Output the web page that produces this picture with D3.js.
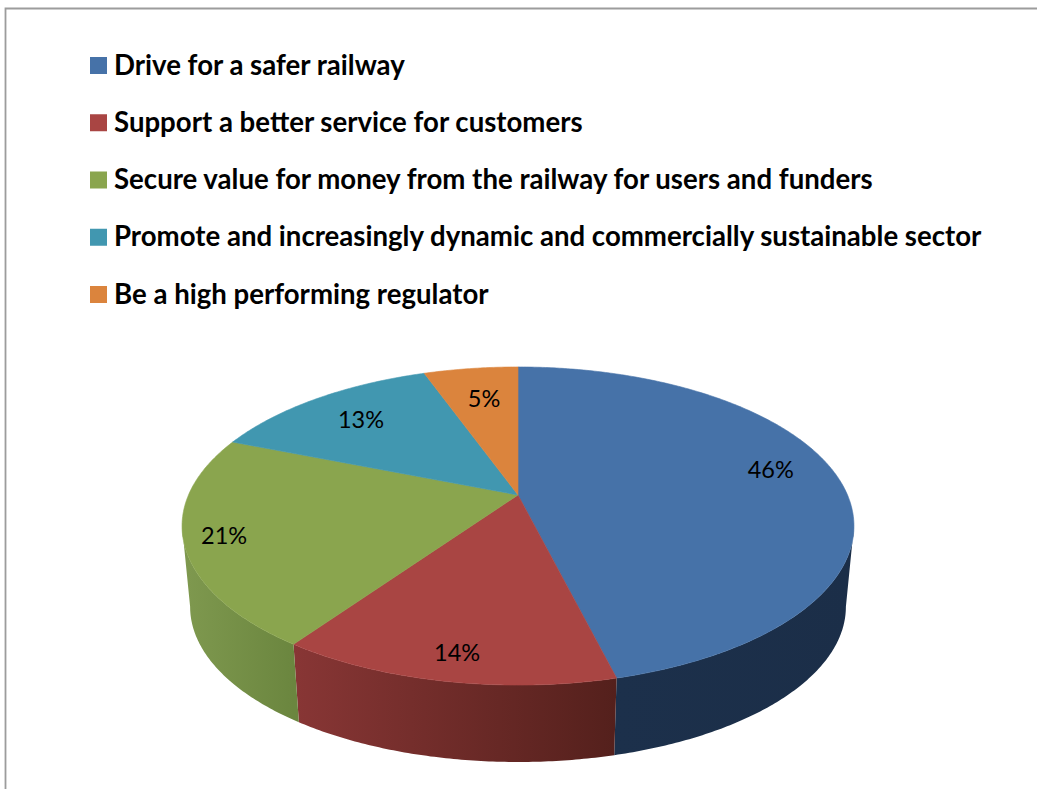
<!DOCTYPE html>
<html>
<head>
<meta charset="utf-8">
<script src="https://cdn.jsdelivr.net/npm/d3@7/dist/d3.min.js"></script>
<style>
  html, body { margin: 0; padding: 0; background: #fff; overflow: hidden; }
  svg { display: block; }
  text { font-family: Lato, "Open Sans", sans-serif; fill: #000; }
</style>
</head>
<body>
<svg id="chart" width="1037" height="789"></svg>
<script>
// Share of work by strategic objective
const categories = [
  "Drive for a safer railway",
  "Support a better service for customers",
  "Secure value for money from the railway for users and funders",
  "Promote and increasingly dynamic and commercially sustainable sector",
  "Be a high performing regulator"
];
const shares = [46.1, 13.6, 21.35, 13.48, 5.47];
const topColors = ["#4672a8", "#a94543", "#8aa54e", "#4197b0", "#db843d"];
const wallStops = [
  ["#1c304b", "#1b2e48"],
  ["#883635", "#54201c"],
  ["#7f994f", "#6b863f"],
  ["#2b6577", "#2b6577"],
  ["#93582a", "#93582a"]
];
// Radial distance and position along the slice of each percentage label
const labelRadius = [0.81, 0.87, 0.885, 0.76, 0.73];
const labelAlong = [0.47, 0.495, 0.5, 0.5, 0.53];

const svg = d3.select("#chart");

// Outer frame of the chart area
svg.append("path")
  .attr("d", "M5.5,789V8.5H1037")
  .attr("fill", "none")
  .attr("stroke", "#9c9c9c")
  .attr("stroke-width", 1.8);

// Legend
const legendY = d3.scalePoint().domain(categories).range([65.5, 294.5]);
const legend = svg.append("g").selectAll("g").data(categories).join("g")
  .attr("transform", d => `translate(90,${legendY(d)})`);
legend.append("rect")
  .attr("y", -8.5).attr("width", 17).attr("height", 17)
  .attr("fill", (d, i) => topColors[i]);
legend.append("text")
  .attr("x", 24).attr("dy", "0.33em")
  .attr("font-size", 27.6).attr("font-weight", 700)
  .text(d => d);

// Perspective projection of the disc: a unit circle seen from the front
const tilt = 0.195, halfW = 329.5, halfH = 153, apexX = 518, apexY = 495;
const wallScale = 0.976, wallApexY = 576.5;
function project(r, a, scale = 1, y0 = apexY) {
  const X = r * Math.sin(a), Y = r * Math.cos(a), w = 1 + tilt * Y;
  return [apexX + scale * halfW * X / w, y0 - scale * halfH * Y / w];
}
const rimPoints = (a0, a1, scale, y0) => {
  const n = Math.max(2, Math.ceil((a1 - a0) / 0.01));
  return d3.range(n + 1).map(i => project(1, a0 + (a1 - a0) * i / n, scale, y0));
};

const slices = d3.pie().sort(null).value(d => d)(shares);
const line = d3.line();

// The wall is visible only between the two tangent points of the rim
const frontStart = Math.PI - Math.acos(tilt), frontEnd = Math.PI + Math.acos(tilt);
const frontSlices = slices
  .map((s, i) => ({ i, a0: Math.max(s.startAngle, frontStart), a1: Math.min(s.endAngle, frontEnd) }))
  .filter(s => s.a1 > s.a0);

const defs = svg.append("defs");
frontSlices.forEach(s => {
  const xs = rimPoints(s.a0, s.a1, 1, apexY).map(p => p[0]);
  defs.append("linearGradient")
    .attr("id", `wall${s.i}`).attr("gradientUnits", "userSpaceOnUse")
    .attr("x1", d3.min(xs)).attr("x2", d3.max(xs)).attr("y1", 0).attr("y2", 0)
    .selectAll("stop").data(wallStops[s.i]).join("stop")
    .attr("offset", (d, j) => j)
    .attr("stop-color", d => d);
});
svg.append("g").selectAll("path").data(frontSlices).join("path")
  .attr("d", s => line(rimPoints(s.a0, s.a1, 1, apexY)
      .concat(rimPoints(s.a0, s.a1, wallScale, wallApexY).reverse())) + "Z")
  .attr("fill", s => `url(#wall${s.i})`);

// Top surface
svg.append("g").selectAll("path").data(slices).join("path")
  .attr("d", s => line([[apexX, apexY]].concat(rimPoints(s.startAngle, s.endAngle, 1, apexY))) + "Z")
  .attr("fill", (s, i) => topColors[i])
  .attr("stroke", (s, i) => topColors[i])
  .attr("stroke-width", 0.6);

// Percentage labels
svg.append("g").selectAll("text").data(slices).join("text")
  .attr("transform", (s, i) => {
    const a = s.startAngle + (s.endAngle - s.startAngle) * labelAlong[i];
    return `translate(${project(labelRadius[i], a)})`;
  })
  .attr("text-anchor", "middle").attr("dy", "0.35em")
  .attr("font-size", 23.5)
  .text(s => `${Math.round(s.value)}%`);
</script>
</body>
</html>
